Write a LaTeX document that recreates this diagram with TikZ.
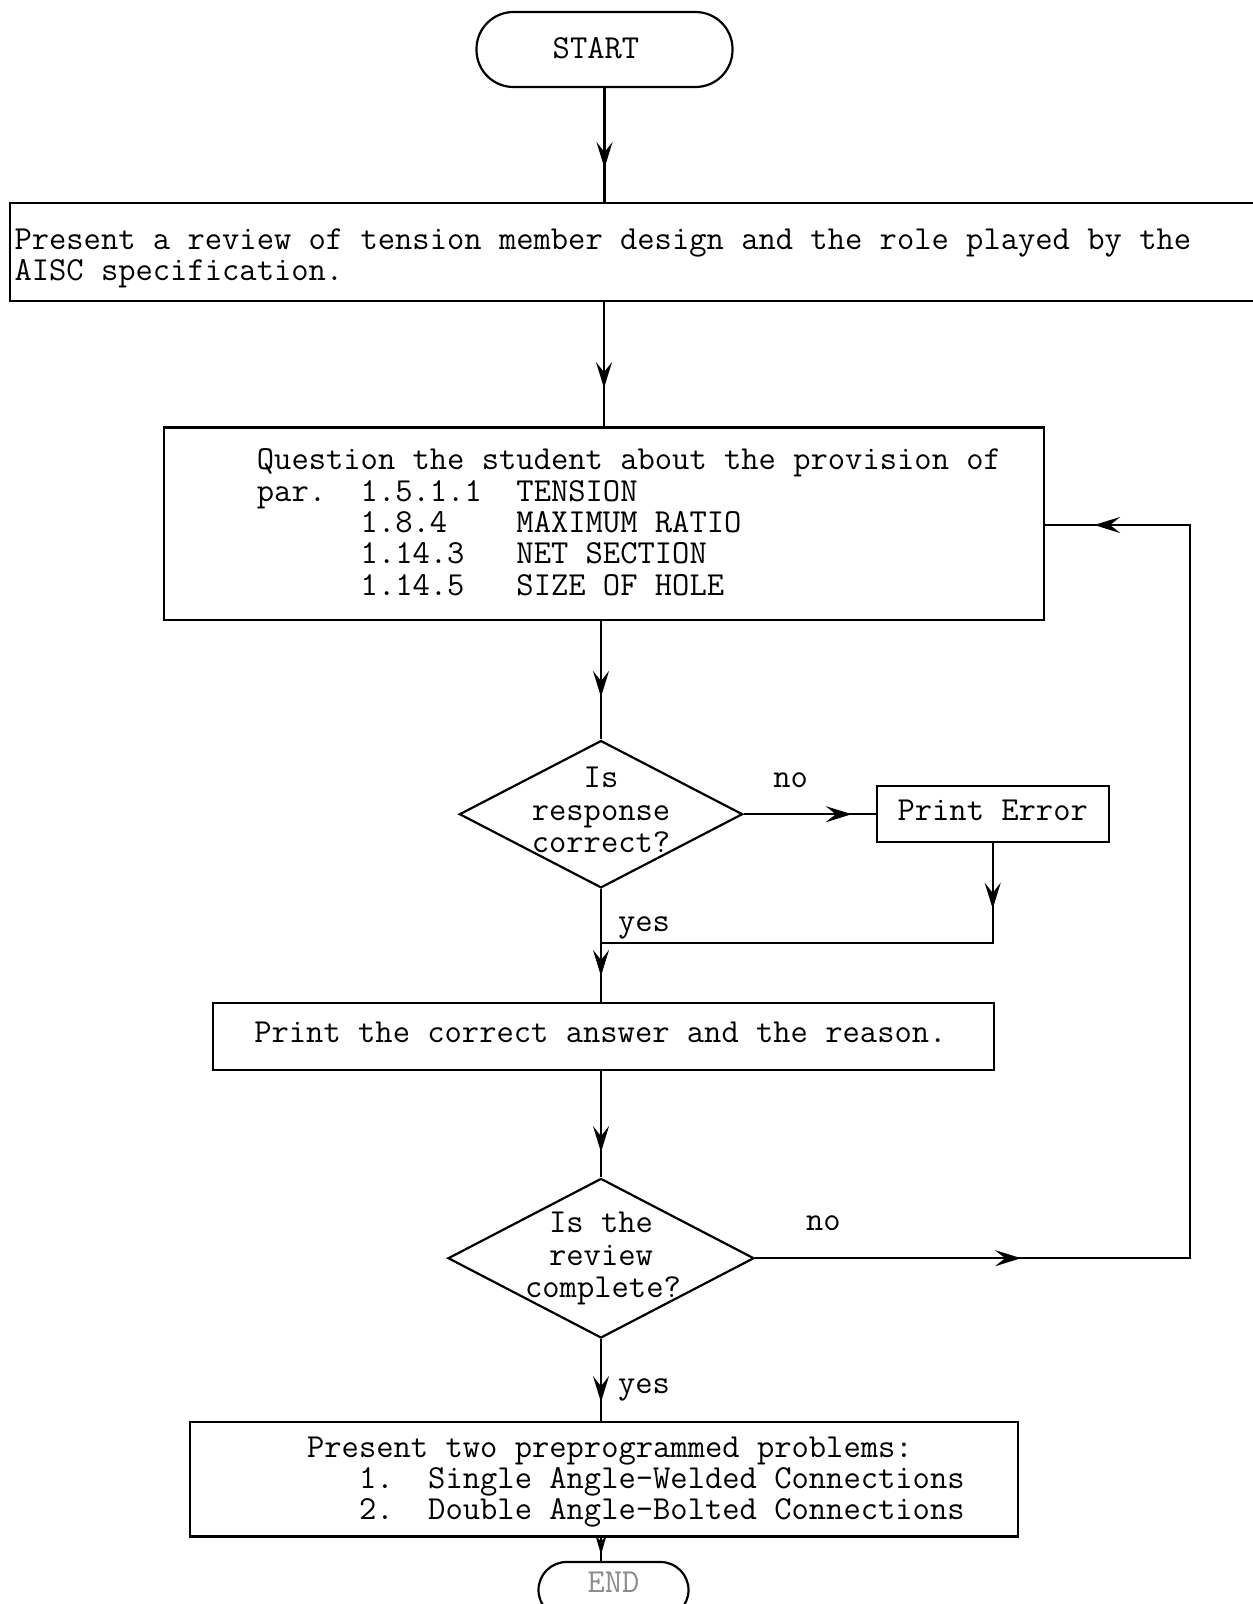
\documentclass[tikz,border=0pt]{standalone}
\usepackage{fontspec}
\usetikzlibrary{arrows.meta,shapes.geometric,decorations.markings}
\begin{document}
\begin{tikzpicture}[x=1pt,y=-1pt,
  every node/.style={font=\fontsize{33.6}{36}\selectfont\ttfamily, inner sep=0pt},
  flow/.style={line width=2.2pt},
  boxed/.style={draw, rectangle, line width=2.2pt},
  decision/.style={draw, diamond, line width=2.2pt},
  terminal/.style={draw, rectangle, rounded corners=#1, line width=2.2pt},
  tipat/.style={postaction={decorate, decoration={markings,
      mark=at position #1 with {\arrow{Stealth[length=26pt,width=16pt,inset=10pt]}}}}},
  smalltipat/.style={postaction={decorate, decoration={markings,
      mark=at position #1 with {\arrow{Stealth[length=19pt,width=11pt,inset=6pt]}}}}},
  txt/.style={anchor=base west},
  ctxt/.style={anchor=base}]
\clip (0,0) rectangle (1253,1604);

% terminals and process boxes
\node[terminal=37pt, minimum width=256pt, minimum height=75pt] (start) at (604.5,49.5) {};
\node[boxed, minimum width=1290pt, minimum height=98pt] (b1) at (655,252) {};
\node[boxed, minimum width=880.7pt, minimum height=192.3pt] (q) at (604,523.7) {};
\node[decision, minimum width=283.3pt, minimum height=147.3pt] (d1) at (601,814.2) {};
\node[boxed, minimum width=232pt, minimum height=56pt] (perr) at (992.7,813.7) {};
\node[boxed, minimum width=781.5pt, minimum height=67pt] (b3) at (603.5,1036.5) {};
\node[decision, minimum width=306pt, minimum height=159.6pt] (d2) at (601,1258.2) {};
\node[boxed, minimum width=827.5pt, minimum height=114.6pt] (b4) at (604,1479.1) {};
\node[terminal=28pt, minimum width=150pt, minimum height=56pt] (endn) at (613.5,1590) {};

% texts
\node[ctxt] (startt) at (596,58.3) {START};

\node[txt] (b1a) at (14.3,249.6) {Present a review of tension member design and the role played by the};
\node[txt] (b1b) at (14.3,280.3) {AISC specification.};

\node[txt] (q1) at (256.7,469.5) {Question the student about the provision of};
\node[txt] (q2) at (256.7,501) {par.\ \ 1.5.1.1\ \ TENSION};
\node[txt] (q3) at (256.7,532.4) {\ \ \ \ \ \ 1.8.4\ \ \ \ MAXIMUM RATIO};
\node[txt] (q4) at (256.7,563.9) {\ \ \ \ \ \ 1.14.3\ \ \ NET SECTION};
\node[txt] (q5) at (256.7,595.3) {\ \ \ \ \ \ 1.14.5\ \ \ SIZE OF HOLE};

\node[ctxt] (d1a) at (601,787.6) {Is};
\node[ctxt] (d1b) at (601,820.4) {response};
\node[ctxt] (d1c) at (601,852.1) {correct?};
\node[ctxt] (no1) at (790.7,787.6) {no};
\node[ctxt] (perrt) at (992.7,820.4) {Print Error};
\node[txt] (yes1) at (617.8,931.9) {yes};

\node[ctxt] (b3t) at (600.4,1042.3) {Print the correct answer and the reason.};

\node[ctxt] (d2a) at (601,1232.6) {Is the};
\node[ctxt] (d2b) at (601,1265.3) {review};
\node[ctxt] (d2c) at (603,1297) {complete?};
\node[ctxt] (no2) at (823.4,1230.5) {no};
\node[txt] (yes2) at (617.8,1393.2) {yes};

\node[txt] (b4a) at (306.9,1457.6) {Present two preprogrammed problems:};
\node[txt] (b4b) at (306.9,1488.3) {\ \ \ 1.\ \ Single Angle-Welded Connections};
\node[txt] (b4c) at (306.9,1519) {\ \ \ 2.\ \ Double Angle-Bolted Connections};

\node[ctxt, text=black!45] (endt) at (613.5,1592) {END};

% connectors
\coordinate (j1) at (601,942.7);
\coordinate (c1) at (1190,1258.2);
\coordinate (c2) at (1190,525);

\draw[flow, tipat=80pt] (start.south) -- (start.south |- b1.north);
\draw[flow, tipat=86pt] (q.north |- b1.south) -- (q.north);
\draw[flow, tipat=76pt] (q.south -| d1.north) -- (d1.north);
\draw[flow, tipat=108pt] (d1.east) -- (perr.west |- d1.east);
\draw[flow, tipat=66pt] (perr.south) -- (perr.south |- j1) -- (j1);
\draw[flow, tipat=87pt] (d1.south) -- (d1.south |- b3.north);
\draw[flow, tipat=81pt] (b3.south -| d2.north) -- (d2.north);
\draw[flow, tipat=266pt, tipat=1264pt] (d2.east) -- (c1) -- (c2) -- (q.east |- c2);
\draw[flow, tipat=63pt] (d2.south) -- (d2.south |- b4.north);
\draw[flow, smalltipat=17pt] (b4.south -| d2.south) -- (endn.north -| d2.south);
\end{tikzpicture}
\end{document}
